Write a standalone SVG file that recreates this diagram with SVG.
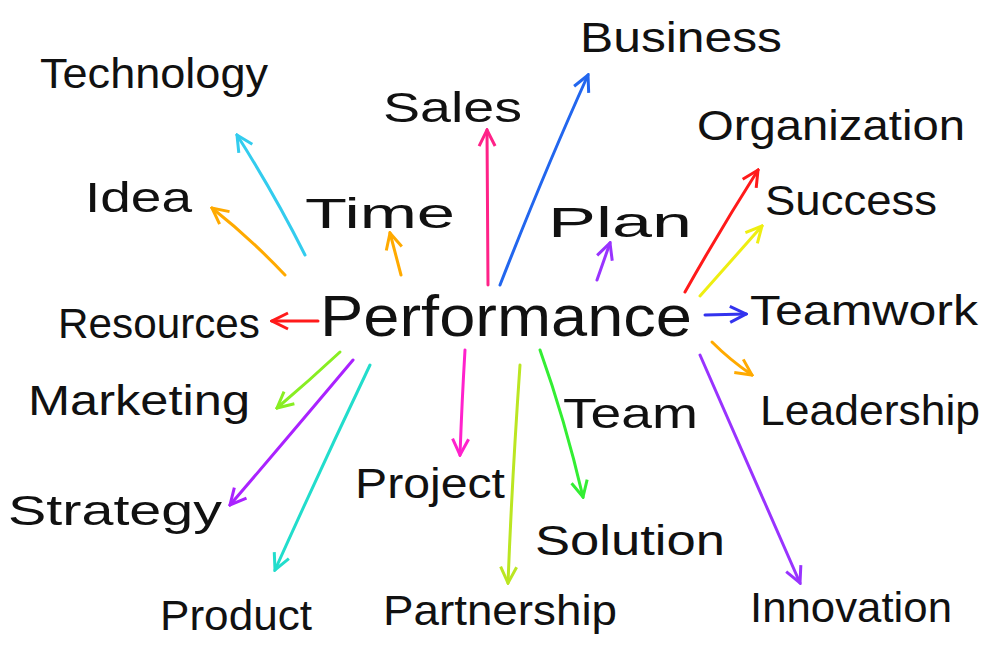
<svg xmlns="http://www.w3.org/2000/svg" width="1000" height="667" viewBox="0 0 1000 667">
<style>
.t{font-family:"Liberation Sans","DejaVu Sans",sans-serif;font-size:42px;fill:#111;}
.big{font-size:58px;}
.c{fill:none;stroke-width:3;stroke-linecap:round;}
</style>
<defs>
<marker id="m-cyan" viewBox="0 0 20 20" refX="18" refY="10" markerWidth="20" markerHeight="20" markerUnits="userSpaceOnUse" orient="auto"><path d="M2,2 L18,10 L2,18" fill="none" stroke="#33ccee" stroke-width="3"/></marker>
<marker id="m-orange" viewBox="0 0 20 20" refX="18" refY="10" markerWidth="20" markerHeight="20" markerUnits="userSpaceOnUse" orient="auto"><path d="M2,2 L18,10 L2,18" fill="none" stroke="#ffaa00" stroke-width="3"/></marker>
<marker id="m-red" viewBox="0 0 20 20" refX="18" refY="10" markerWidth="20" markerHeight="20" markerUnits="userSpaceOnUse" orient="auto"><path d="M2,2 L18,10 L2,18" fill="none" stroke="#ff1a1a" stroke-width="3"/></marker>
<marker id="m-pink" viewBox="0 0 20 20" refX="18" refY="10" markerWidth="20" markerHeight="20" markerUnits="userSpaceOnUse" orient="auto"><path d="M2,2 L18,10 L2,18" fill="none" stroke="#ff2288" stroke-width="3"/></marker>
<marker id="m-blue" viewBox="0 0 20 20" refX="18" refY="10" markerWidth="20" markerHeight="20" markerUnits="userSpaceOnUse" orient="auto"><path d="M2,2 L18,10 L2,18" fill="none" stroke="#2266ee" stroke-width="3"/></marker>
<marker id="m-purple" viewBox="0 0 20 20" refX="18" refY="10" markerWidth="20" markerHeight="20" markerUnits="userSpaceOnUse" orient="auto"><path d="M2,2 L18,10 L2,18" fill="none" stroke="#9933ff" stroke-width="3"/></marker>
<marker id="m-yellow" viewBox="0 0 20 20" refX="18" refY="10" markerWidth="20" markerHeight="20" markerUnits="userSpaceOnUse" orient="auto"><path d="M2,2 L18,10 L2,18" fill="none" stroke="#eeee11" stroke-width="3"/></marker>
<marker id="m-indigo" viewBox="0 0 20 20" refX="18" refY="10" markerWidth="20" markerHeight="20" markerUnits="userSpaceOnUse" orient="auto"><path d="M2,2 L18,10 L2,18" fill="none" stroke="#3333ee" stroke-width="3"/></marker>
<marker id="m-green" viewBox="0 0 20 20" refX="18" refY="10" markerWidth="20" markerHeight="20" markerUnits="userSpaceOnUse" orient="auto"><path d="M2,2 L18,10 L2,18" fill="none" stroke="#33ee33" stroke-width="3"/></marker>
<marker id="m-lime" viewBox="0 0 20 20" refX="18" refY="10" markerWidth="20" markerHeight="20" markerUnits="userSpaceOnUse" orient="auto"><path d="M2,2 L18,10 L2,18" fill="none" stroke="#bbe622" stroke-width="3"/></marker>
<marker id="m-magenta" viewBox="0 0 20 20" refX="18" refY="10" markerWidth="20" markerHeight="20" markerUnits="userSpaceOnUse" orient="auto"><path d="M2,2 L18,10 L2,18" fill="none" stroke="#ff22cc" stroke-width="3"/></marker>
<marker id="m-teal" viewBox="0 0 20 20" refX="18" refY="10" markerWidth="20" markerHeight="20" markerUnits="userSpaceOnUse" orient="auto"><path d="M2,2 L18,10 L2,18" fill="none" stroke="#22ddcc" stroke-width="3"/></marker>
<marker id="m-violet" viewBox="0 0 20 20" refX="18" refY="10" markerWidth="20" markerHeight="20" markerUnits="userSpaceOnUse" orient="auto"><path d="M2,2 L18,10 L2,18" fill="none" stroke="#aa22ff" stroke-width="3"/></marker>
<marker id="m-lgreen" viewBox="0 0 20 20" refX="18" refY="10" markerWidth="20" markerHeight="20" markerUnits="userSpaceOnUse" orient="auto"><path d="M2,2 L18,10 L2,18" fill="none" stroke="#88ee22" stroke-width="3"/></marker>
</defs>
<rect width="1000" height="667" fill="#ffffff"/>
<g id="connectors">
<path class="c" stroke="#33ccee" d="M305,255 Q275,195 237,135" marker-end="url(#m-cyan)"/>
<path class="c" stroke="#ffaa00" d="M285,275 Q250,238 212,208" marker-end="url(#m-orange)"/>
<path class="c" stroke="#ffaa00" d="M401,275 L390,233" marker-end="url(#m-orange)"/>
<path class="c" stroke="#ff1a1a" d="M318,321 L272,321" marker-end="url(#m-red)"/>
<path class="c" stroke="#ff2288" d="M488,285 L487,130" marker-end="url(#m-pink)"/>
<path class="c" stroke="#2266ee" d="M500,285 Q545,170 588,75" marker-end="url(#m-blue)"/>
<path class="c" stroke="#9933ff" d="M597,280 L610,243" marker-end="url(#m-purple)"/>
<path class="c" stroke="#ff1a1a" d="M685,292 Q720,230 758,170" marker-end="url(#m-red)"/>
<path class="c" stroke="#eeee11" d="M700,296 Q730,262 762,226" marker-end="url(#m-yellow)"/>
<path class="c" stroke="#3333ee" d="M705,315 L746,314" marker-end="url(#m-indigo)"/>
<path class="c" stroke="#ffaa00" d="M712,342 Q730,360 752,375" marker-end="url(#m-orange)"/>
<path class="c" stroke="#9933ff" d="M700,355 Q750,470 800,583" marker-end="url(#m-purple)"/>
<path class="c" stroke="#33ee33" d="M540,350 Q565,420 583,497" marker-end="url(#m-green)"/>
<path class="c" stroke="#bbe622" d="M520,365 Q512,480 508,583" marker-end="url(#m-lime)"/>
<path class="c" stroke="#ff22cc" d="M465,350 Q462,400 460,455" marker-end="url(#m-magenta)"/>
<path class="c" stroke="#22ddcc" d="M370,365 Q320,470 275,570" marker-end="url(#m-teal)"/>
<path class="c" stroke="#aa22ff" d="M353,360 Q290,435 230,505" marker-end="url(#m-violet)"/>
<path class="c" stroke="#88ee22" d="M340,352 Q310,380 277,408" marker-end="url(#m-lgreen)"/>
</g>
<g id="performance"><text class="t big" x="320" y="336" textLength="372" lengthAdjust="spacingAndGlyphs">Performance</text></g>
<g id="technology"><text class="t" x="40" y="88" textLength="228" lengthAdjust="spacingAndGlyphs">Technology</text></g>
<g id="business"><text class="t" x="580" y="52" textLength="202" lengthAdjust="spacingAndGlyphs">Business</text></g>
<g id="sales"><text class="t" x="383" y="122" textLength="139" lengthAdjust="spacingAndGlyphs">Sales</text></g>
<g id="organization"><text class="t" x="697" y="140" textLength="268" lengthAdjust="spacingAndGlyphs">Organization</text></g>
<g id="idea"><text class="t" x="85" y="212" textLength="107" lengthAdjust="spacingAndGlyphs">Idea</text></g>
<g id="time"><text class="t" x="305" y="228" textLength="150" lengthAdjust="spacingAndGlyphs">Time</text></g>
<g id="plan"><text class="t" x="548" y="237" textLength="144" lengthAdjust="spacingAndGlyphs">Plan</text></g>
<g id="success"><text class="t" x="765" y="215" textLength="172" lengthAdjust="spacingAndGlyphs">Success</text></g>
<g id="resources"><text class="t" x="58" y="338" textLength="202" lengthAdjust="spacingAndGlyphs">Resources</text></g>
<g id="teamwork"><text class="t" x="750" y="325" textLength="228" lengthAdjust="spacingAndGlyphs">Teamwork</text></g>
<g id="marketing"><text class="t" x="28" y="415" textLength="222" lengthAdjust="spacingAndGlyphs">Marketing</text></g>
<g id="leadership"><text class="t" x="760" y="425" textLength="220" lengthAdjust="spacingAndGlyphs">Leadership</text></g>
<g id="team"><text class="t" x="563" y="428" textLength="135" lengthAdjust="spacingAndGlyphs">Team</text></g>
<g id="project"><text class="t" x="355" y="498" textLength="150" lengthAdjust="spacingAndGlyphs">Project</text></g>
<g id="strategy"><text class="t" x="8" y="525" textLength="214" lengthAdjust="spacingAndGlyphs">Strategy</text></g>
<g id="solution"><text class="t" x="535" y="555" textLength="190" lengthAdjust="spacingAndGlyphs">Solution</text></g>
<g id="product"><text class="t" x="160" y="630" textLength="152" lengthAdjust="spacingAndGlyphs">Product</text></g>
<g id="partnership"><text class="t" x="383" y="625" textLength="234" lengthAdjust="spacingAndGlyphs">Partnership</text></g>
<g id="innovation"><text class="t" x="750" y="622" textLength="202" lengthAdjust="spacingAndGlyphs">Innovation</text></g>
</svg>
